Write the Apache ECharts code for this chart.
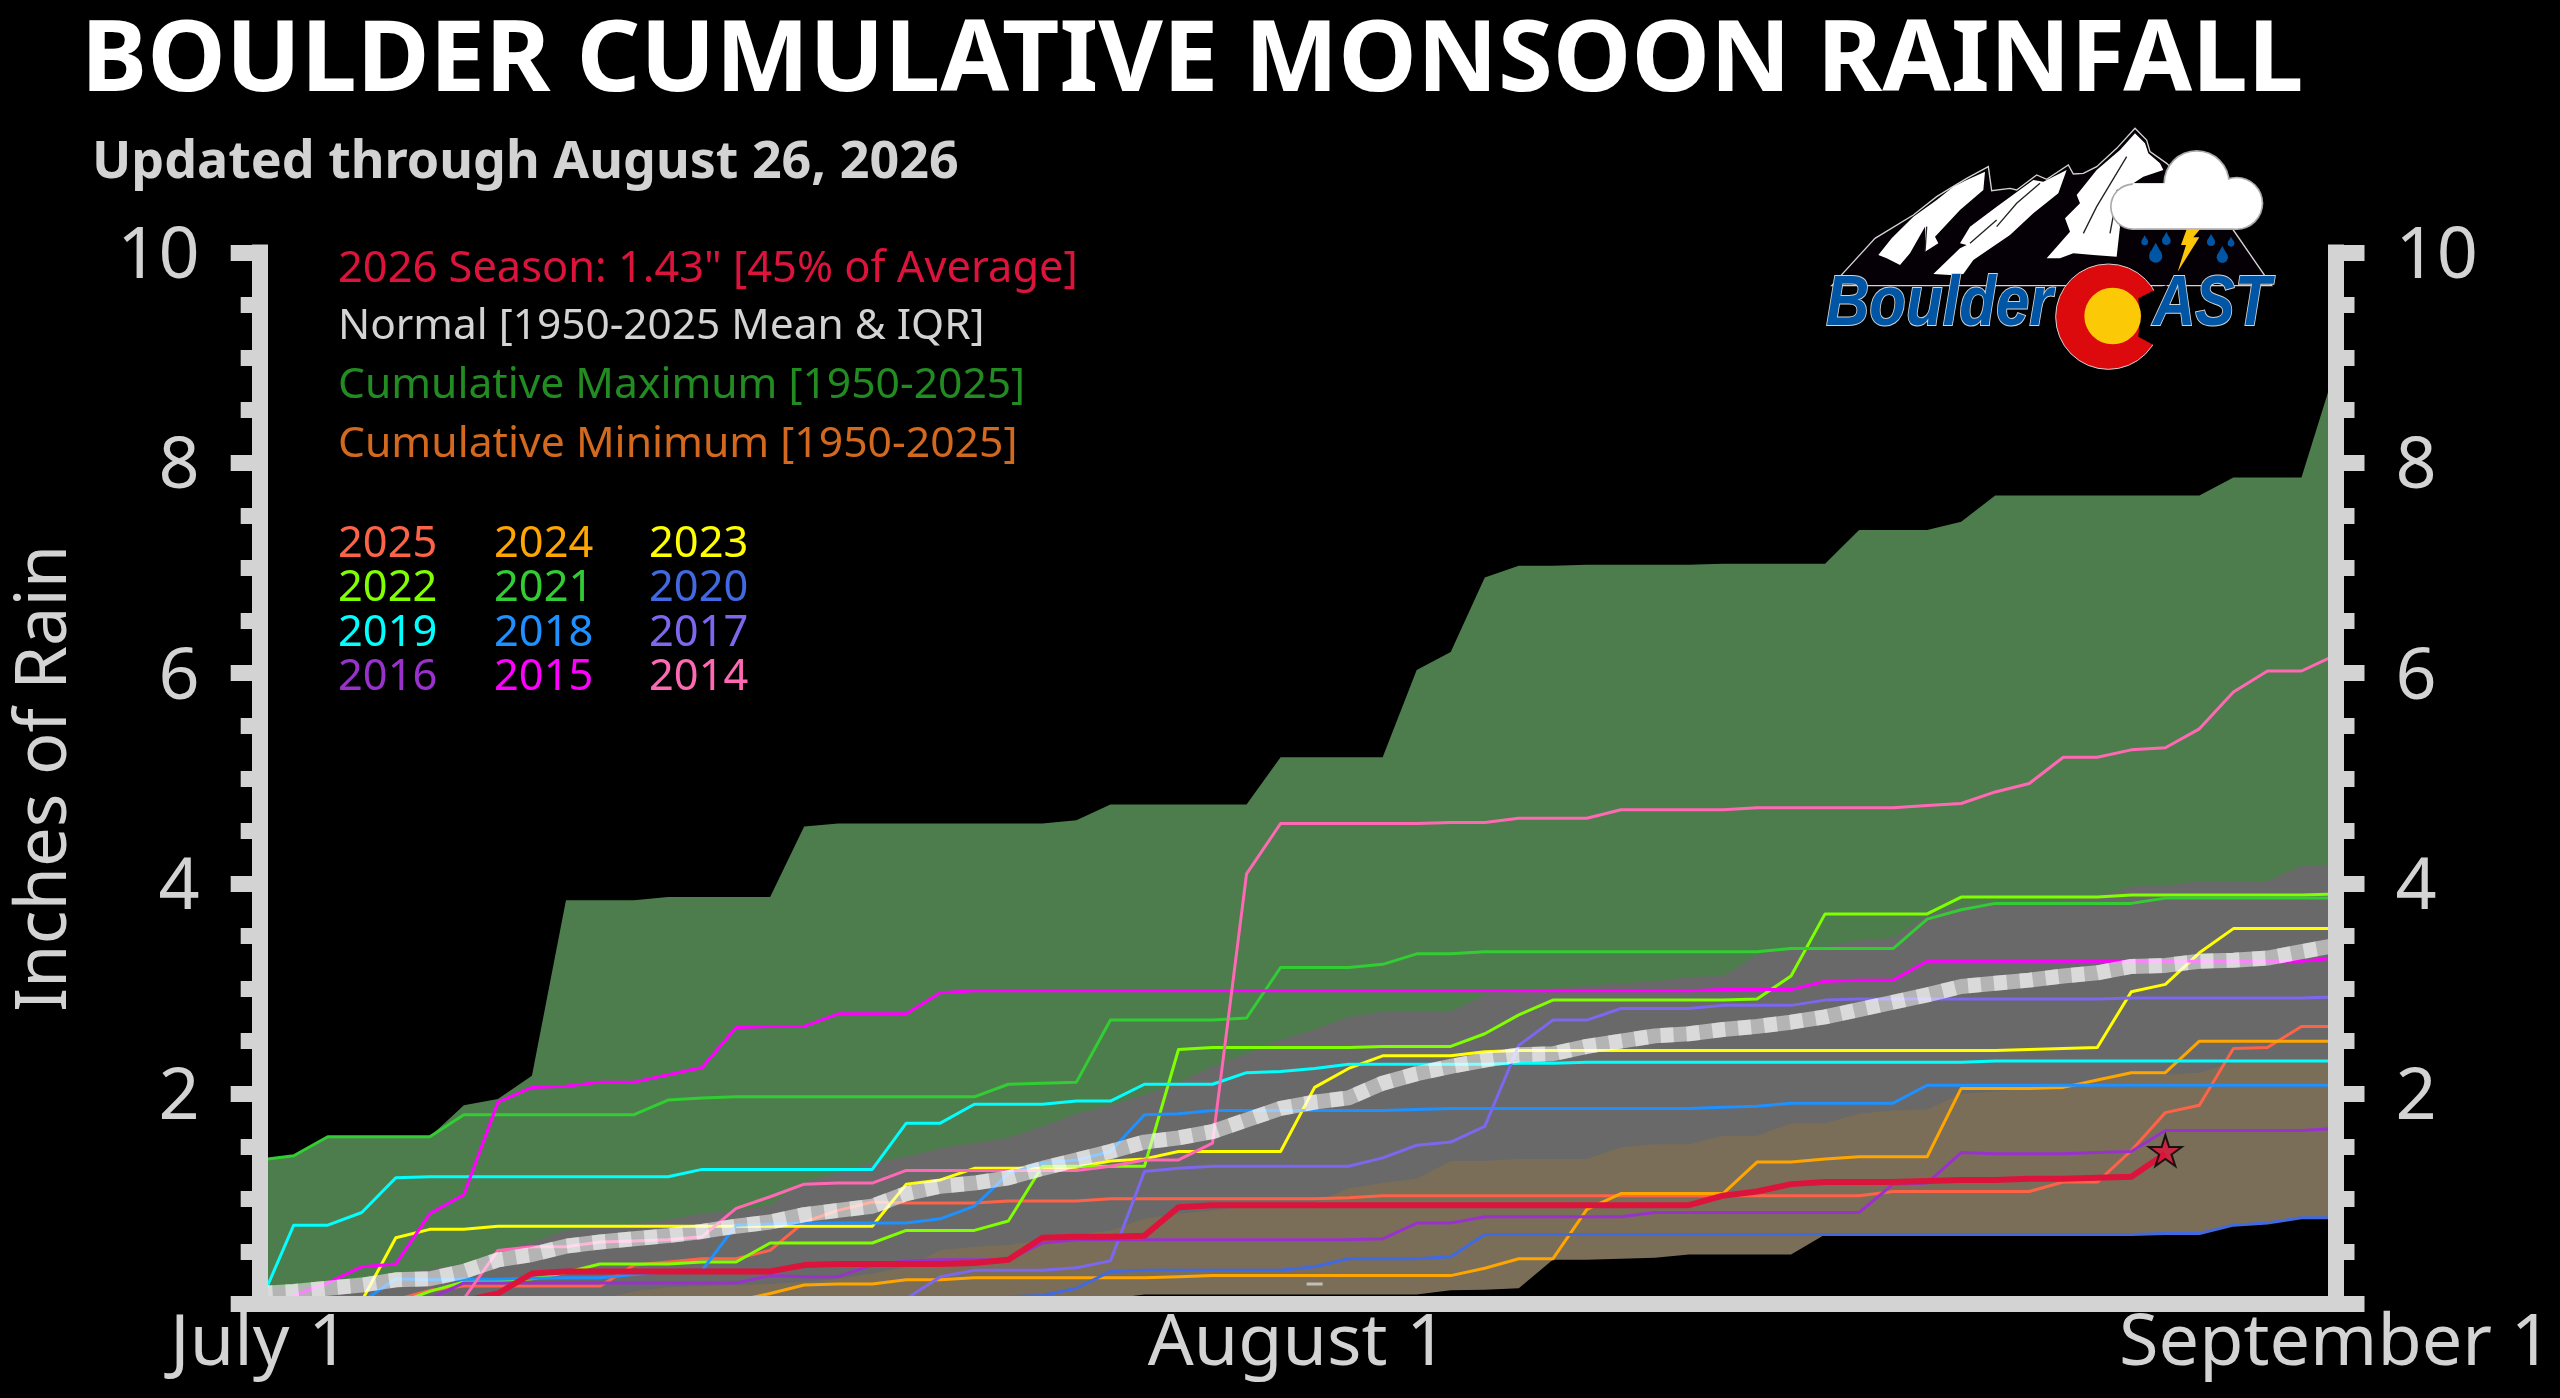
<!DOCTYPE html>
<html><head><meta charset="utf-8">
<style>html,body{margin:0;padding:0;background:#000}#c{width:2560px;height:1398px}</style>
<script src="https://cdn.jsdelivr.net/npm/echarts@6/dist/echarts.min.js"></script>
</head><body><div id="c"></div>
<script>
const dayLabels = ['July 1','August 1','September 1'];
const yMax = [1.37,1.41,1.59,1.59,1.59,1.59,1.89,1.95,2.17,3.84,3.84,3.84,3.87,3.87,3.87,3.87,4.54,4.57,4.57,4.57,4.57,4.57,4.57,4.57,4.60,4.75,4.75,4.75,4.75,4.75,5.20,5.20,5.20,5.20,6.03,6.20,6.91,7.02,7.02,7.03,7.03,7.03,7.03,7.04,7.04,7.04,7.04,7.36,7.36,7.36,7.44,7.69,7.69,7.69,7.69,7.69,7.69,7.69,7.86,7.86,7.86,8.90];
const yP75 = [.15,.16,.20,.24,.29,.33,.38,.50,.59,.70,.73,.76,.80,.86,.89,.94,1.16,1.25,1.34,1.40,1.48,1.53,1.58,1.69,1.81,1.89,1.99,2.11,2.26,2.38,2.51,2.61,2.73,2.78,2.78,2.78,2.94,2.97,3.00,3.03,3.05,3.07,3.11,3.12,3.32,3.39,3.39,3.46,3.48,3.70,3.78,3.80,3.82,3.84,3.87,3.97,3.98,4.02,4.02,4.02,4.17,4.18];
const yP25 = [0,0,0,0,0,0,0,0,0,0,.05,.12,.16,.17,.18,.19,.21,.24,.29,.355,.51,.545,.56,.61,.66,.70,.81,.86,.89,.93,.94,.96,1.10,1.15,1.19,1.36,1.36,1.38,1.38,1.38,1.49,1.52,1.52,1.60,1.60,1.72,1.72,1.81,1.84,1.85,2.00,2.02,2.05,2.06,2.15,2.18,2.18,2.20,2.30,2.31,2.31,2.31];
const yMin = [0,0,0,0,0,0,0,0,0,0,0,0,0,0,0,0,0,0,0,0,0,0,0,0,0,.05,.09,.09,.09,.09,.09,.09,.09,.09,.09,.13,.135,.15,.42,.42,.43,.44,.47,.47,.47,.47,.66,.66,.66,.66,.66,.66,.66,.66,.66,.66,.67,.67,.75,.77,.82,.82];
const yMean = [.10,.12,.15,.18,.23,.24,.31,.42,.47,.55,.59,.62,.65,.69,.74,.78,.85,.89,.93,1.05,1.12,1.15,1.20,1.29,1.37,1.45,1.54,1.58,1.64,1.75,1.86,1.92,1.96,2.10,2.19,2.26,2.32,2.37,2.38,2.45,2.50,2.55,2.57,2.61,2.64,2.68,2.73,2.80,2.87,2.94,3.02,3.05,3.08,3.12,3.15,3.21,3.22,3.26,3.27,3.29,3.35,3.41];
const y2014 = [0,0,0,0,0,0,.05,.51,.545,.545,.59,.60,.61,.64,.91,1.02,1.14,1.15,1.15,1.27,1.27,1.27,1.27,1.27,1.27,1.31,1.37,1.37,1.53,4.09,4.57,4.57,4.57,4.57,4.57,4.58,4.58,4.62,4.62,4.62,4.70,4.70,4.70,4.70,4.72,4.72,4.72,4.72,4.72,4.74,4.76,4.87,4.95,5.20,5.20,5.27,5.29,5.47,5.82,6.02,6.02,6.17];
const y2015 = [0,.08,.20,.355,.38,.86,1.04,1.92,2.06,2.07,2.11,2.11,2.18,2.25,2.63,2.64,2.64,2.76,2.76,2.76,2.96,2.98,2.98,2.98,2.98,2.98,2.98,2.98,2.98,2.98,2.98,2.98,2.98,2.98,2.98,2.98,2.98,2.98,2.98,2.98,2.98,2.98,2.98,2.99,2.99,2.99,3.07,3.08,3.08,3.26,3.26,3.26,3.26,3.26,3.26,3.26,3.26,3.26,3.26,3.26,3.26,3.29];
const y2016 = [0,0,0,0,0,.05,.20,.20,.20,.20,.20,.20,.20,.20,.20,.27,.26,.26,.37,.41,.42,.42,.42,.58,.61,.61,.61,.61,.61,.61,.61,.61,.61,.62,.77,.77,.83,.83,.83,.83,.83,.87,.87,.87,.87,.87,.87,.87,1.14,1.15,1.44,1.43,1.43,1.43,1.44,1.45,1.65,1.65,1.65,1.65,1.65,1.67];
const y2017 = [0,0,0,0,0,0,0,0,0,0,0,0,0,0,0,0,0,0,0,.05,.26,.32,.32,.32,.345,.41,1.26,1.29,1.31,1.31,1.31,1.31,1.31,1.39,1.51,1.54,1.69,2.46,2.70,2.70,2.81,2.81,2.81,2.84,2.84,2.84,2.89,2.90,2.90,2.90,2.90,2.90,2.90,2.90,2.90,2.91,2.91,2.91,2.91,2.91,2.91,2.92];
const y2018 = [0,0,0,.02,.24,.23,.235,.235,.245,.25,.25,.28,.31,.32,.75,.76,.77,.77,.77,.77,.81,.93,1.24,1.34,1.37,1.45,1.80,1.81,1.84,1.84,1.84,1.84,1.84,1.84,1.85,1.86,1.86,1.86,1.86,1.86,1.86,1.86,1.86,1.87,1.88,1.91,1.91,1.91,1.91,2.08,2.08,2.08,2.08,2.08,2.08,2.08,2.08,2.08,2.08,2.08,2.08,2.08];
const y2019 = [0,.75,.75,.87,1.20,1.21,1.21,1.21,1.21,1.21,1.21,1.21,1.21,1.28,1.28,1.28,1.28,1.28,1.28,1.72,1.72,1.90,1.90,1.90,1.93,1.93,2.09,2.09,2.09,2.20,2.21,2.24,2.28,2.28,2.28,2.28,2.28,2.29,2.29,2.30,2.30,2.30,2.30,2.30,2.30,2.30,2.30,2.30,2.30,2.30,2.30,2.31,2.31,2.31,2.31,2.31,2.31,2.31,2.31,2.31,2.31,2.31];
const y2020 = [0,0,0,0,0,0,0,0,0,0,0,0,0,0,0,0,0,0,0,0,0,0,.07,.08,.15,.31,.32,.32,.32,.32,.32,.355,.43,.43,.43,.45,.66,.66,.66,.66,.66,.66,.66,.66,.66,.66,.66,.66,.66,.66,.66,.66,.66,.66,.66,.66,.67,.67,.75,.77,.82,.82];
const y2021 = [1.37,1.41,1.59,1.59,1.59,1.59,1.80,1.80,1.80,1.80,1.80,1.80,1.94,1.96,1.97,1.97,1.97,1.97,1.97,1.97,1.97,1.97,2.09,2.10,2.11,2.70,2.70,2.70,2.70,2.72,3.20,3.20,3.20,3.23,3.33,3.33,3.35,3.35,3.35,3.35,3.35,3.35,3.35,3.35,3.35,3.38,3.38,3.38,3.38,3.66,3.75,3.81,3.81,3.81,3.81,3.81,3.86,3.86,3.86,3.86,3.86,3.86];
const y2022 = [0,0,0,0,0,.12,.21,.22,.24,.30,.38,.38,.38,.40,.40,.58,.58,.58,.58,.70,.70,.70,.79,1.31,1.31,1.31,1.31,2.42,2.44,2.44,2.44,2.44,2.44,2.45,2.45,2.45,2.57,2.75,2.89,2.89,2.89,2.89,2.89,2.89,2.90,3.12,3.71,3.71,3.71,3.71,3.87,3.87,3.87,3.87,3.87,3.89,3.89,3.89,3.89,3.89,3.89,3.90];
const y2023 = [0,0,0,.03,.63,.71,.71,.74,.74,.74,.74,.74,.74,.74,.74,.74,.74,.74,.74,1.14,1.18,1.29,1.29,1.29,1.30,1.36,1.38,1.45,1.45,1.45,1.45,2.06,2.24,2.36,2.36,2.36,2.40,2.41,2.41,2.41,2.41,2.41,2.41,2.41,2.41,2.41,2.41,2.41,2.41,2.41,2.41,2.41,2.42,2.43,2.44,2.97,3.04,3.34,3.57,3.57,3.57,3.57];
const y2024 = [0,0,0,0,0,0,0,0,0,0,0,0,0,0,.03,.10,.18,.19,.19,.23,.23,.25,.25,.25,.25,.25,.25,.26,.27,.27,.27,.27,.27,.27,.27,.27,.34,.43,.43,.90,1.05,1.05,1.05,1.05,1.35,1.35,1.38,1.40,1.40,1.40,2.05,2.05,2.05,2.06,2.13,2.20,2.20,2.50,2.50,2.50,2.50,2.50];
const y2025 = [0,0,0,0,.04,.13,.17,.17,.17,.17,.17,.37,.40,.43,.43,.51,.78,.89,.97,.96,.96,.96,.98,.98,.98,1.00,1.00,1.00,1.00,1.00,1.00,1.00,1.01,1.03,1.03,1.03,1.03,1.03,1.03,1.03,1.03,1.03,1.03,1.03,1.03,1.03,1.03,1.03,1.07,1.07,1.07,1.07,1.07,1.16,1.16,1.46,1.82,1.89,2.43,2.44,2.64,2.64];
const y2026 = [0,0,0,0,0,0,.03,.10,.29,.31,.31,.31,.31,.31,.31,.31,.37,.38,.38,.38,.38,.39,.42,.63,.64,.64,.65,.92,.94,.94,.94,.94,.94,.94,.94,.94,.94,.94,.94,.94,.94,.94,.94,1.03,1.07,1.14,1.16,1.16,1.16,1.17,1.18,1.18,1.19,1.19,1.20,1.21,1.43];
const latest = [[56,1.43]];
const augustTick = [[31,.19]];
const yearNames = ['2025','2024','2023','2022','2021','2020','2019','2018','2017','2016','2015','2014'];
const yearColors = ['#ff6347','#ffa500','#ffff00','#7fff00','#32cd32','#4169e1','#00ffff','#1e90ff','#7b68ee','#9932cc','#ff00ff','#ff69b4'];
const yearValues = [y2025,y2024,y2023,y2022,y2021,y2020,y2019,y2018,y2017,y2016,y2015,y2014];
const legendLines = [
  ['2026 Season: 1.43" [45% of Average]','#dc143c',43.4],
  ['Normal [1950-2025 Mean & IQR]','#d3d3d3',42.4],
  ['Cumulative Maximum [1950-2025]','#228b22',42.6],
  ['Cumulative Minimum [1950-2025]','#d2691e',42.7]];
const LG='#d3d3d3', FONT='"Noto Sans"';

const pts = a => a.map((v,i)=>[i,v]);
function band(name,vals,color){return {name,type:'line',data:pts(vals),showSymbol:false,silent:true,
  lineStyle:{width:0},areaStyle:{color,opacity:1},itemStyle:{color}};}
function line(name,vals,color,width){return {name,type:'line',data:pts(vals),showSymbol:false,silent:true,
  lineStyle:{color,width,join:'round'},itemStyle:{color}};}

const series = [
  band('Maximum',yMax,'#4d7d4d'),
  band('P75',yP75,'#696969'),
  band('P25',yP25,'#7a6e58'),
  band('Minimum',yMin,'#000000'),
  ...yearNames.map((n,k)=>line(n,yearValues[k],yearColors[k],3)),
  {name:'Mean',type:'line',data:pts(yMean),showSymbol:false,silent:true,lineStyle:{color:'rgba(255,255,255,0.5)',width:15,cap:'butt',join:'bevel'}},
  {name:'Mean dash',type:'line',data:pts(yMean),showSymbol:false,silent:true,lineStyle:{color:'rgba(255,255,255,0.5)',width:15,type:[13,13],cap:'butt',join:'bevel'}},
  line('2026',y2026,'#dc143c',6),
  {name:'Latest',type:'scatter',data:latest,symbol:'path://M50 0 L61 35 L98 35 L68 57 L79 91 L50 70 L21 91 L32 57 L2 35 L39 35 Z',symbolSize:[33,31],symbolOffset:[0,-3],
   itemStyle:{color:'#dc143c',borderColor:'#000',borderWidth:2},z:6,silent:true},
  {name:'Aug tick',type:'scatter',data:augustTick,symbol:'rect',symbolSize:[16,3],itemStyle:{color:LG},silent:true,z:6}
];

const titles = [
  {text:'BOULDER CUMULATIVE MONSOON RAINFALL',left:81,top:13,padding:0,textStyle:{color:'#fff',fontFamily:FONT,fontWeight:'bold',fontSize:99.5,lineHeight:100}},
  {text:'Updated through August 26, 2026',left:92,top:133,padding:0,textStyle:{color:LG,fontFamily:FONT,fontWeight:'bold',fontSize:52,lineHeight:60}}
];
const rowY=[270,327,386,445];
legendLines.forEach((l,i)=>titles.push({text:l[0],left:338,top:rowY[i]-25,padding:0,textStyle:{color:l[1],fontFamily:FONT,fontWeight:'normal',fontSize:l[2],lineHeight:50}}));
const colX=[338,494,649], yrY=[545,589,634,678];
yearNames.forEach((n,k)=>titles.push({text:n,left:colX[k%3],top:yrY[Math.floor(k/3)]-25,padding:0,textStyle:{color:yearColors[k],fontFamily:FONT,fontWeight:'normal',fontSize:43.4,lineHeight:50}}));

const blue='#0055a5';
function drop(x,y,r){return [{type:'circle',shape:{cx:x,cy:y,r},style:{fill:blue}},
  {type:'polygon',shape:{points:[[x-r*.92,y-r*.35],[x,y-r*2],[x+r*.92,y-r*.35]]},style:{fill:blue}}];}
const cloud=[[970,260,65],[1160,190,95],[1280,250,75]];
const streak=(pts)=>({type:'polyline',shape:{points:pts},style:{stroke:'#222',lineWidth:4,fill:null}});
const logo={type:'group',x:1810,y:120,scaleX:1/3,scaleY:1/3,children:[
  {type:'polygon',shape:{points:[[65,497],[195,355],[310,285],[380,230],[420,205],[470,175],[535,140],[545,212],[600,205],[620,210],[680,165],[710,178],[775,135],[790,162],[820,160],[860,140],[920,85],[975,25],[1010,60],[1020,95],[1070,130],[1270,330],[1385,497]]},style:{fill:'#050005',stroke:LG,lineWidth:4}},
  {type:'polygon',shape:{points:[[205,405],[245,355],[310,290],[380,240],[430,200],[470,180],[525,155],[520,210],[450,270],[375,350],[385,370],[345,395],[345,320],[300,400],[270,435],[230,415]]},style:{fill:'#fff'}},
  {type:'polygon',shape:{points:[[370,462],[450,385],[470,375],[450,370],[480,320],[560,260],[670,180],[700,185],[770,150],[745,220],[670,280],[600,345],[490,420],[460,462],[420,465]]},style:{fill:'#fff'}},
  {type:'polygon',shape:{points:[[710,415],[780,335],[765,295],[810,250],[800,225],[860,150],[930,90],[975,40],[1005,70],[1015,100],[1050,130],[1060,150],[1000,170],[970,190],[920,210],[905,260],[930,320],[920,410],[850,405],[790,400],[750,415]]},style:{fill:'#fff'}},
  streak([[350,320],[345,395]]),streak([[560,320],[620,250],[690,190]]),streak([[480,370],[560,300]]),streak([[820,340],[860,260],[950,110]]),streak([[900,340],[915,260]]),
  ...cloud.map(c=>({type:'circle',shape:{cx:c[0],cy:c[1],r:c[2]+5},style:{fill:'#aaa'}})),
  {type:'rect',shape:{x:965,y:190,width:320,height:140},style:{fill:'#aaa'}},
  ...cloud.map(c=>({type:'circle',shape:{cx:c[0],cy:c[1],r:c[2]},style:{fill:'#fff'}})),
  {type:'rect',shape:{x:968,y:190,width:316,height:135},style:{fill:'#fff'}},
  ...drop(1004,366,10),...drop(1069,362,13),...drop(1037,408,20),...drop(1203,366,12),...drop(1263,370,10),...drop(1237,412,17),
  {type:'polygon',shape:{points:[[1130,328],[1170,328],[1150,352],[1168,352],[1103,455],[1128,375],[1113,375]]},style:{fill:'#fcc70a'}},
  {type:'circle',shape:{cx:895,cy:590,r:158},style:{fill:'#dd0a0d',stroke:LG,lineWidth:3}},
  {type:'polygon',shape:{points:[[1045,505],[985,535],[990,590],[985,650],[1040,680],[1070,690],[1070,495]]},style:{fill:'#000'}},
  {type:'circle',shape:{cx:908,cy:588,r:85},style:{fill:'#fbc905'}},
  {type:'text',x:48,y:662,scaleX:1,scaleY:1.18,style:{text:'Boulder',font:'italic bold 180px "Liberation Sans"',fill:blue,stroke:LG,lineWidth:5,strokeFirst:true,verticalAlign:'bottom'}},
  {type:'text',x:1028,y:662,scaleX:1,scaleY:1.18,style:{text:'AST',font:'italic bold 177px "Liberation Sans"',fill:blue,stroke:LG,lineWidth:5,strokeFirst:true,verticalAlign:'bottom'}}
]};

const yAxisBase=(position)=>({type:'value',position,min:0,max:10,interval:2,z:10,
  splitLine:{show:false},
  axisLine:{show:true,onZero:false,lineStyle:{color:LG,width:16,cap:'square'}},
  axisTick:{show:true,length:29,lineStyle:{color:LG,width:16}},
  minorTick:{show:true,splitNumber:4,length:19,lineStyle:{color:LG,width:16}},
  axisLabel:{show:true,margin:60,color:LG,fontFamily:FONT,fontSize:72,verticalAlign:'top',lineHeight:10,formatter:v=>v===0?'':String(v)}});

const chart=echarts.init(document.getElementById('c'),null,{renderer:'canvas',width:2560,height:1398});
chart.setOption({
  backgroundColor:'#000',animation:false,
  title:titles,
  grid:{left:259.7,top:252.5,width:2075.8,height:1051.5,outerBoundsMode:'none',containLabel:false},
  xAxis:{type:'value',min:0,max:61,interval:30.5,z:10,splitLine:{show:false},
    axisLine:{show:true,onZero:false,lineStyle:{color:LG,width:16}},axisTick:{show:false},minorTick:{show:false},
    axisLabel:{show:true,margin:4,color:LG,fontFamily:FONT,fontSize:72,hideOverlap:false,showMinLabel:true,showMaxLabel:true,
      formatter:v=>dayLabels[Math.round(v/30.5)]}},
  yAxis:[{...yAxisBase('left'),name:'Inches of Rain',nameLocation:'middle',nameRotate:90,nameGap:178,
      nameTextStyle:{color:LG,fontFamily:FONT,fontSize:70.5}},
    yAxisBase('right')],
  series,
  graphic:[logo]
});
</script></body></html>
